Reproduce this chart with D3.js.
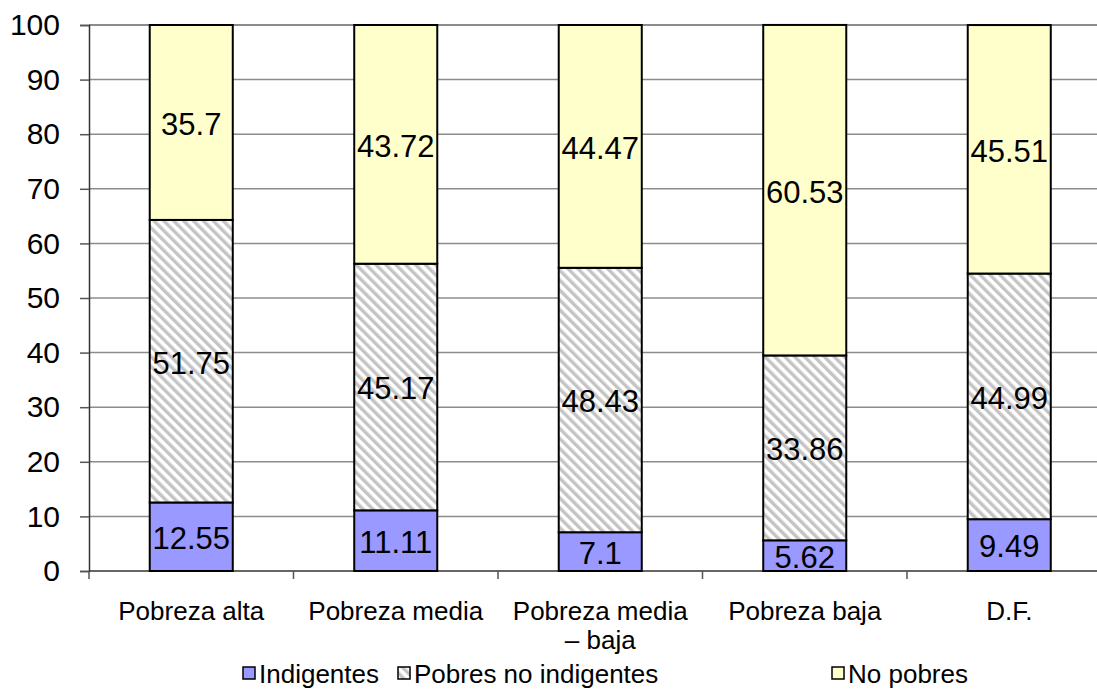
<!DOCTYPE html>
<html>
<head>
<meta charset="utf-8">
<script src="https://cdn.jsdelivr.net/npm/d3@7"></script>
<style>
  html, body { margin: 0; padding: 0; background: #fff; overflow: hidden; }
  text { font-family: "Liberation Sans", Arial, sans-serif; fill: #000; }
</style>
</head>
<body>
<svg id="chart" width="1097" height="689"></svg>
<script>
const categories = ["Pobreza alta", "Pobreza media", "Pobreza media\n– baja", "Pobreza baja", "D.F."];
const seriesNames = ["Indigentes", "Pobres no indigentes", "No pobres"];
const indigentes = [12.55, 11.11, 7.1, 5.62, 9.49];
const pobresNoIndigentes = [51.75, 45.17, 48.43, 33.86, 44.99];
const noPobres = [35.7, 43.72, 44.47, 60.53, 45.51];
const yTicks = [0, 10, 20, 30, 40, 50, 60, 70, 80, 90, 100];

const svg = d3.select("#chart");
const margin = { left: 89, top: 25, bottom: 118 };
const plotRight = 1111.5;
const H = 689;
const y0 = H - margin.bottom; // 571

const x = d3.scaleBand().domain(d3.range(categories.length)).range([margin.left, plotRight]).paddingInner(0).paddingOuter(0);
const y = d3.scaleLinear().domain([0, 100]).range([y0, margin.top]);

// hatch pattern
const defs = svg.append("defs");
const pat = defs.append("pattern")
  .attr("id", "hatch")
  .attr("patternUnits", "userSpaceOnUse")
  .attr("width", 7).attr("height", 10)
  .attr("patternTransform", "rotate(-45)");
pat.append("rect").attr("width", 7).attr("height", 10).attr("fill", "#ffffff");
pat.append("rect").attr("width", 3.4).attr("height", 10).attr("fill", "#c4c4c4");

const fills = ["#9999ff", "url(#hatch)", "#ffffcc"];

// gridlines
svg.append("g").selectAll("line").data(yTicks.filter(d => d > 0)).join("line")
  .attr("x1", margin.left).attr("x2", plotRight)
  .attr("y1", d => y(d)).attr("y2", d => y(d))
  .attr("stroke", "#8c8c8c").attr("stroke-width", d => d === 100 ? 2 : 1.5);

// y axis
const yAxis = svg.append("g").attr("transform", `translate(${margin.left},0)`)
  .call(d3.axisLeft(y).tickValues(yTicks).tickSize(9).tickPadding(20));
yAxis.select(".domain").attr("stroke", "#333").attr("stroke-width", 1.5);
yAxis.selectAll(".tick line").attr("stroke", "#555").attr("stroke-width", 1.5);
yAxis.selectAll(".tick text").attr("font-size", 30).attr("font-family", "Liberation Sans, Arial, sans-serif").attr("fill", "#000");

// x axis
svg.append("line").attr("x1", margin.left).attr("x2", plotRight).attr("y1", y0).attr("y2", y0)
  .attr("stroke", "#333").attr("stroke-width", 1.5);
svg.append("g").selectAll("line").data(d3.range(categories.length + 1)).join("line")
  .attr("x1", i => margin.left + i * x.bandwidth()).attr("x2", i => margin.left + i * x.bandwidth())
  .attr("y1", y0).attr("y2", y0 + 8)
  .attr("stroke", "#555").attr("stroke-width", 1.5);

// stacked data
const rows = categories.map((c, i) => ({ i, "Indigentes": indigentes[i], "Pobres no indigentes": pobresNoIndigentes[i], "No pobres": noPobres[i] }));
const stacked = d3.stack().keys(seriesNames)(rows);

const barW = x.bandwidth() * 0.406;
const cx = i => x(i) + x.bandwidth() / 2;

stacked.forEach((layer, si) => {
  const g = svg.append("g");
  g.selectAll("rect").data(layer).join("rect")
    .attr("x", d => cx(d.data.i) - barW / 2)
    .attr("y", d => y(d[1]))
    .attr("width", barW)
    .attr("height", d => y(d[0]) - y(d[1]))
    .attr("fill", fills[si])
    .attr("stroke", "#000").attr("stroke-width", 2);
});
stacked.forEach((layer, si) => {
  svg.append("g").selectAll("text").data(layer).join("text")
    .attr("x", d => cx(d.data.i))
    .attr("y", d => y((d[0] + d[1]) / 2))
    .attr("dy", "0.4em")
    .attr("text-anchor", "middle")
    .attr("font-size", 31)
    .text(d => d.data[seriesNames[si]]);
});

// category labels
const cat = svg.append("g").selectAll("text").data(categories).join("text")
  .attr("x", (d, i) => cx(i)).attr("y", 620)
  .attr("text-anchor", "middle").attr("font-size", 26);
cat.each(function(d) {
  const lines = d.split("\n");
  d3.select(this).selectAll("tspan").data(lines).join("tspan")
    .attr("x", d3.select(this).attr("x"))
    .attr("dy", (l, k) => k === 0 ? 0 : 29)
    .text(l => l);
});

// legend
const legendX = [243, 398, 832];
const lg = svg.append("g");
seriesNames.forEach((n, k) => {
  lg.append("rect").attr("x", legendX[k]).attr("y", 667).attr("width", 12).attr("height", 12)
    .attr("fill", fills[k]).attr("stroke", "#000").attr("stroke-width", 1.5);
  lg.append("text").attr("x", legendX[k] + 16).attr("y", 683).attr("font-size", 26).text(n);
});
</script>
</body>
</html>
